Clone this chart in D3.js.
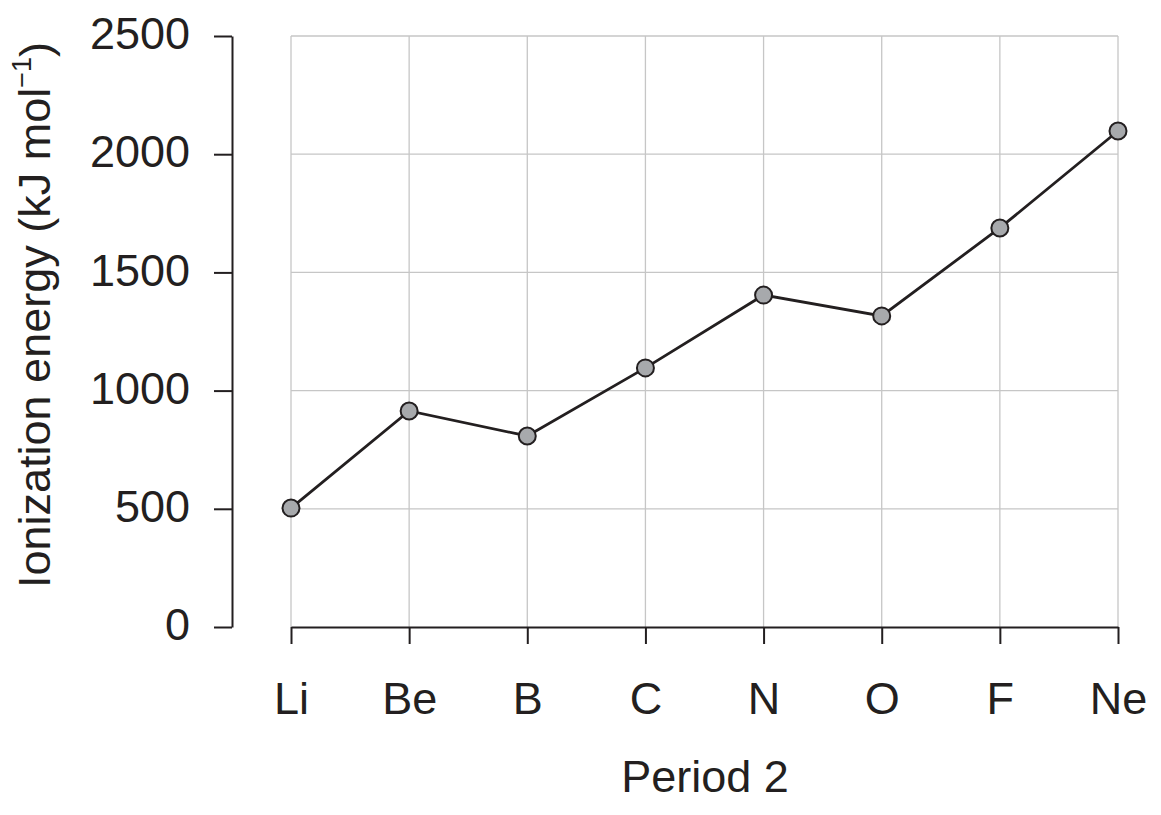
<!DOCTYPE html>
<html>
<head>
<meta charset="utf-8">
<script src="https://d3js.org/d3.v7.min.js"></script>
<style>
    body { margin: 0; background: #fff; }
    text { font-family: "Liberation Sans", Arial, sans-serif; fill: #231f20; }
</style>
</head>
<body>
<svg id="chart" width="1161" height="815"></svg>
<script>
    var elements = ["Li", "Be", "B", "C", "N", "O", "F", "Ne"];
    var energy = [503, 914, 808, 1096, 1404, 1316, 1688, 2098];
    var yTicks = [0, 500, 1000, 1500, 2000, 2500];

    var ink = "#231f20";
    var fs = 45;
    var svg = d3.select("#chart");

    var x = d3.scalePoint()
        .domain(elements)
        .range([291, 1118]);
    var y = d3.scaleLinear()
        .domain([0, 2500])
        .range([627, 36]);

    // grid
    var grid = svg.append("g")
        .attr("stroke", "#c6c6c6")
        .attr("stroke-width", 1.3);
    grid.selectAll("line.h")
        .data(yTicks.filter(d => d > 0))
        .join("line")
        .attr("x1", x.range()[0]).attr("x2", x.range()[1])
        .attr("y1", d => y(d)).attr("y2", d => y(d));
    grid.selectAll("line.v")
        .data(elements)
        .join("line")
        .attr("x1", d => x(d)).attr("x2", d => x(d))
        .attr("y1", y(0)).attr("y2", y(2500));

    // y axis
    var yAxis = svg.append("g")
        .attr("transform", "translate(232,0)")
        .call(d3.axisLeft(y).tickValues(yTicks).tickFormat(d3.format("d"))
            .tickSize(18).tickPadding(24).tickSizeOuter(0));
    yAxis.select(".domain").attr("stroke", ink).attr("stroke-width", 2);
    yAxis.selectAll(".tick line").attr("stroke", ink).attr("stroke-width", 2);
    yAxis.selectAll(".tick text")
        .attr("font-size", fs)
        .attr("dy", "0.28em")
        .style("font-family", "Liberation Sans, Arial, sans-serif")
        .attr("fill", ink);

    // x axis
    var xAxis = svg.append("g")
        .attr("transform", "translate(0,627)")
        .call(d3.axisBottom(x).tickSize(17).tickPadding(38).tickSizeOuter(0));
    xAxis.select(".domain").attr("stroke", ink).attr("stroke-width", 2);
    xAxis.selectAll(".tick line").attr("stroke", ink).attr("stroke-width", 2);
    xAxis.selectAll(".tick text")
        .attr("font-size", fs)
        .style("font-family", "Liberation Sans, Arial, sans-serif")
        .attr("fill", ink);

    // line + points
    var pts = elements.map((e, i) => ({ name: e, value: energy[i] }));
    svg.append("path")
        .datum(pts)
        .attr("fill", "none")
        .attr("stroke", ink)
        .attr("stroke-width", 2.8)
        .attr("d", d3.line().x(d => x(d.name)).y(d => y(d.value)));
    svg.append("g")
        .selectAll("circle")
        .data(pts)
        .join("circle")
        .attr("cx", d => x(d.name))
        .attr("cy", d => y(d.value))
        .attr("r", 8.5)
        .attr("fill", "#a7a9ac")
        .attr("stroke", ink)
        .attr("stroke-width", 2);

    // axis titles
    svg.append("text")
        .attr("x", 705).attr("y", 792)
        .attr("text-anchor", "middle")
        .attr("font-size", fs)
        .text("Period 2");
    var yt = svg.append("text")
        .attr("transform", "translate(50,315) rotate(-90)")
        .attr("text-anchor", "middle")
        .attr("font-size", fs);
    yt.append("tspan").text("Ionization energy (kJ mol");
    yt.append("tspan").attr("font-size", 27).attr("dy", "-0.7em").text("\u22121");
    yt.append("tspan").attr("dy", "0.45em").text(")");
</script>
</body>
</html>
